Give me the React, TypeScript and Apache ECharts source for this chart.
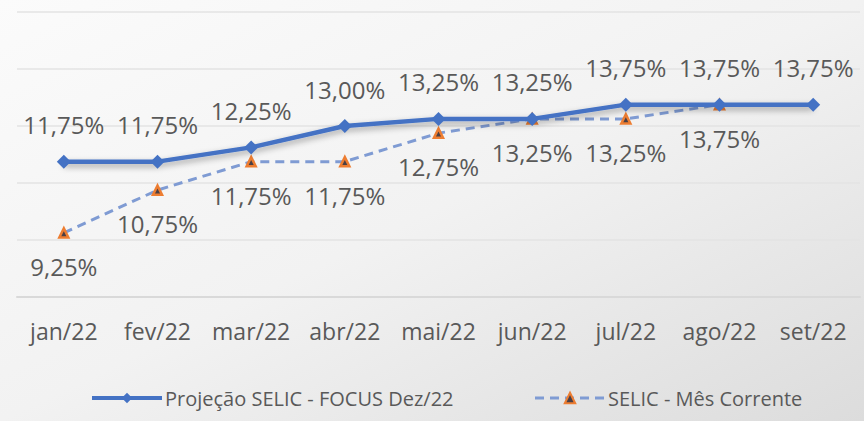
import React, { useEffect, useRef } from "react";
import * as echarts from "echarts";

const categories = ["jan/22", "fev/22", "mar/22", "abr/22", "mai/22", "jun/22", "jul/22", "ago/22", "set/22"];
const focusValues = [11.75, 11.75, 12.25, 13.0, 13.25, 13.25, 13.75, 13.75, 13.75];
const selicValues: (number | null)[] = [9.25, 10.75, 11.75, 11.75, 12.75, 13.25, 13.25, 13.75, null];
const focusName = "Projeção SELIC - FOCUS Dez/22";
const selicName = "SELIC - Mês Corrente";

const fmt = (v: number) => v.toFixed(2).replace(".", ",") + "%";
const FONT = "'Open Sans', 'Noto Sans', sans-serif";

export default function App() {
  const ref = useRef<HTMLDivElement>(null);
  useEffect(() => {
    if (!ref.current) return;
    const chart = echarts.init(ref.current, null, { renderer: "svg" });
    chart.setOption({
      animation: false,
      backgroundColor: new echarts.graphic.LinearGradient(0, 0, 1, 1, [
        { offset: 0, color: "#FBFBFB" },
        { offset: 0.5, color: "#F2F2F2" },
        { offset: 1, color: "#DCDCDC" },
      ]),
      grid: { left: 17, right: 4, top: 12, bottom: 124, containLabel: false },
      xAxis: {
        type: "category",
        data: categories,
        boundaryGap: true,
        axisLine: { show: true, lineStyle: { color: "#D9D9D9", width: 2 } },
        axisTick: { show: false },
        axisLabel: { color: "#595959", fontSize: 23, fontFamily: FONT, margin: 22, interval: 0 },
      },
      yAxis: {
        type: "value",
        min: 7,
        max: 17,
        interval: 2,
        axisLabel: { show: false },
        axisLine: { show: false },
        axisTick: { show: false },
        splitLine: { lineStyle: { color: "#E3E3E3", width: 1.5 } },
      },
      legend: {
        left: 85,
        top: 383,
        itemWidth: 70,
        itemHeight: 13,
        itemGap: 80,
        textStyle: { color: "#595959", fontSize: 20, fontFamily: FONT, padding: [0, 0, 0, -2] },
        data: [
          { name: focusName, lineStyle: { width: 4, color: "#4472C4" } },
          { name: selicName, lineStyle: { width: 3, color: "#7F9BD3", type: [9, 6] } },
        ],
      },
      series: [
        {
          name: focusName,
          type: "line",
          data: focusValues,
          symbol: "diamond",
          symbolSize: 14,
          z: 3,
          lineStyle: {
            color: "#4472C4",
            width: 4.5,
            shadowColor: "rgba(0,0,0,0.35)",
            shadowBlur: 6,
            shadowOffsetY: 3,
          },
          itemStyle: { color: "#4472C4" },
          label: {
            show: true,
            position: "top",
            distance: 18,
            color: "#595959",
            fontSize: 24,
            fontFamily: FONT,
            formatter: (p: any) => fmt(p.value),
          },
        },
        {
          name: selicName,
          type: "line",
          data: selicValues,
          symbol: "triangle",
          symbolSize: 9,
          z: 2,
          lineStyle: { color: "#7F9BD3", width: 3, type: [9, 6] },
          itemStyle: { color: "#4A3F45", borderColor: "#ED7D31", borderWidth: 2.5 },
          label: {
            show: true,
            position: "bottom",
            distance: 16,
            color: "#595959",
            fontSize: 24,
            fontFamily: FONT,
            formatter: (p: any) => fmt(p.value),
          },
        },
      ],
    });
    return () => chart.dispose();
  }, []);
  return <div ref={ref} style={{ width: 864, height: 421, position: "absolute", left: 0, top: 0 }} />;
}
